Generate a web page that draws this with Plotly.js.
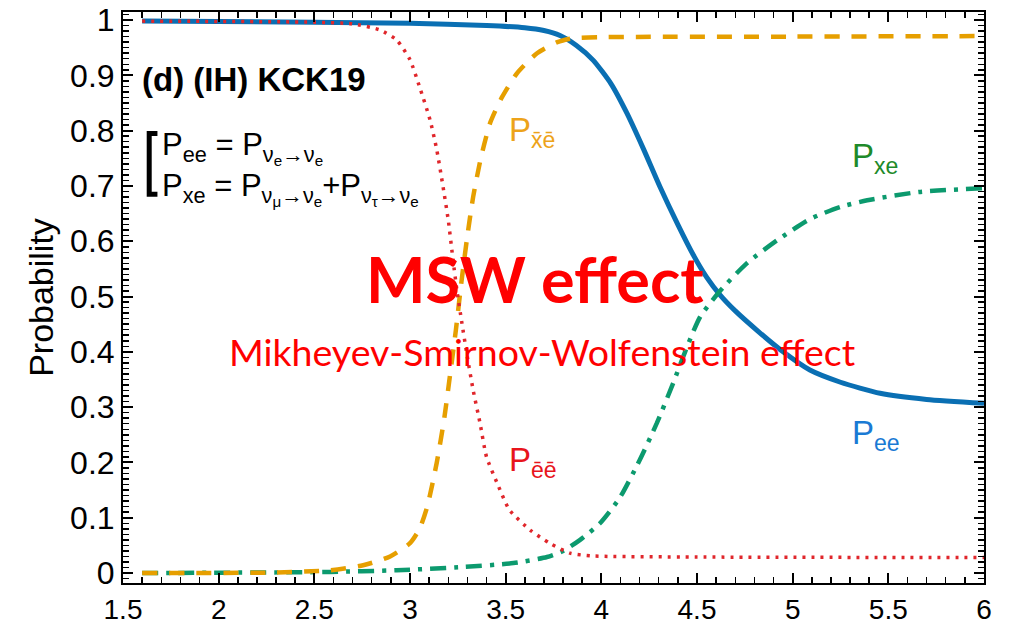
<!DOCTYPE html>
<html>
<head>
<meta charset="utf-8">
<script src="https://cdn.plot.ly/plotly-3.0.1.min.js"></script>
<style>
  html, body { margin: 0; padding: 0; background: #fff; }
  #chart { width: 1012px; height: 624px; }
</style>
</head>
<body>
<div id="chart"></div>
<script>
// Survival / conversion probabilities versus radius coordinate
// P_ee (nu_e -> nu_e), solid
const eeX = [1.6, 2.5, 3.0, 3.4, 3.6, 3.7, 3.784, 3.87, 3.958, 4.05, 4.133, 4.22, 4.307, 4.4, 4.481, 4.55, 4.62, 4.7, 4.83, 4.95, 5.09, 5.25, 5.457, 5.7, 6.0];
const eeY = [0.998, 0.996, 0.994, 0.99, 0.986, 0.981, 0.972, 0.954, 0.927, 0.885, 0.832, 0.767, 0.698, 0.63, 0.575, 0.535, 0.503, 0.474, 0.434, 0.40, 0.367, 0.345, 0.325, 0.314, 0.307];

// P_x̄ē (anti-nu_x -> anti-nu_e), dashed
const xbebX = [1.6, 2.3, 2.58, 2.755, 2.896, 3.0, 3.05, 3.09, 3.14, 3.18, 3.21, 3.24, 3.27, 3.30, 3.33, 3.37, 3.42, 3.48, 3.56, 3.664, 3.77, 3.85, 4.0, 5.0, 6.0];
const xbebY = [0.0, 0.001, 0.005, 0.014, 0.03, 0.054, 0.08, 0.12, 0.2, 0.282, 0.36, 0.44, 0.53, 0.61, 0.68, 0.75, 0.815, 0.86, 0.904, 0.94, 0.96, 0.967, 0.969, 0.97, 0.971];

// P_ēē (anti-nu_e -> anti-nu_e), dotted
const ebebX = [1.6, 2.5, 2.7, 2.843, 2.93, 3.0, 3.05, 3.105, 3.14, 3.173, 3.2, 3.225, 3.245, 3.27, 3.3, 3.33, 3.366, 3.40, 3.455, 3.52, 3.627, 3.73, 3.837, 3.95, 4.5, 6.0];
const ebebY = [0.998, 0.996, 0.993, 0.982, 0.964, 0.928, 0.879, 0.819, 0.765, 0.698, 0.638, 0.566, 0.512, 0.455, 0.39, 0.331, 0.271, 0.21, 0.163, 0.114, 0.078, 0.054, 0.036, 0.031, 0.029, 0.028];

// P_xe (nu_mu + nu_tau -> nu_e), dash-dot
const xeX = [1.6, 2.58, 2.93, 3.28, 3.54, 3.716, 3.8, 3.889, 3.993, 4.098, 4.2, 4.29, 4.375, 4.448, 4.516, 4.62, 4.76, 4.92, 5.09, 5.25, 5.39, 5.66, 6.0];
const xeY = [0.0, 0.002, 0.005, 0.011, 0.018, 0.029, 0.04, 0.06, 0.09, 0.137, 0.204, 0.271, 0.343, 0.409, 0.463, 0.51, 0.56, 0.602, 0.64, 0.662, 0.674, 0.689, 0.696];

// Axis extents and tick spacing (labels: 1.5 … 6 and 0 … 1)
const xRange = [1.5, 6];
const yRange = [-0.018, 1.0145];
const xMajor = 0.5, xMinor = 0.1;
const yMajor = 0.1, yMinor = 0.01;

const BLUE = '#0a6fb3';
const ORANGE = '#e69f00';
const GREEN = '#0c9a6e';
const RED = '#e0262b';

const traces = [
  { x: eeX, y: eeY, mode: 'lines', line: { color: BLUE, width: 5, shape: 'spline', smoothing: 0.6 }, hoverinfo: 'skip' },
  { x: xeX, y: xeY, mode: 'lines', line: { color: GREEN, width: 4.5, dash: '16px,8px,4px,8px', shape: 'spline', smoothing: 0.6 }, hoverinfo: 'skip' },
  { x: xbebX, y: xbebY, mode: 'lines', line: { color: ORANGE, width: 4.5, dash: '15px,12px', shape: 'spline', smoothing: 0.6 }, hoverinfo: 'skip' },
  { x: ebebX, y: ebebY, mode: 'lines', line: { color: RED, width: 3.5, dash: '3px,6px', shape: 'spline', smoothing: 0.6 }, hoverinfo: 'skip' }
];

const tickFamily = 'Liberation Sans, Arial, sans-serif';

const axisCommon = {
  showgrid: false,
  zeroline: false,
  showline: true,
  linecolor: '#000',
  linewidth: 2,
  mirror: 'allticks',
  ticks: 'inside',
  ticklen: 10,
  tickwidth: 2,
  tickcolor: '#000'
};

const minorTicks = { ticks: 'inside', ticklen: 6, tickwidth: 1.5, tickcolor: '#000', showgrid: false };

const labelFont = { family: tickFamily, size: 33 };

const layout = {
  width: 1012,
  height: 624,
  margin: { l: 123, r: 28, t: 12, b: 41 },
  paper_bgcolor: '#fff',
  plot_bgcolor: '#fff',
  showlegend: false,
  xaxis: Object.assign({}, axisCommon, {
    range: xRange,
    tickmode: 'linear', tick0: xRange[0], dtick: xMajor,
    tickfont: { family: tickFamily, size: 28, color: '#000' },
    minor: Object.assign({ dtick: xMinor }, minorTicks)
  }),
  yaxis: Object.assign({}, axisCommon, {
    range: yRange,
    tickmode: 'linear', tick0: 0, dtick: yMajor,
    tickfont: { family: tickFamily, size: 32, color: '#000' },
    minor: Object.assign({ dtick: yMinor }, minorTicks),
    title: { text: 'Probability', font: { family: tickFamily, size: 34, color: '#000' }, standoff: 6 }
  }),
  shapes: [
    // bracket grouping the two definitions
    { type: 'path', xref: 'x', yref: 'y', path: 'M 1.68,0.795 L 1.637,0.795 L 1.637,0.685 L 1.68,0.685',
      line: { color: '#000', width: 5 } }
  ],
  annotations: [
    { text: '(d) (IH) KCK19', x: 1.589, y: 0.893, xref: 'x', yref: 'y', xanchor: 'left', yanchor: 'middle', showarrow: false,
      font: { family: tickFamily, size: 33, color: '#000', weight: 700 } },
    { text: 'P<sub>ee</sub> = P<sub>ν<sub>e</sub>→ν<sub>e</sub></sub>', x: 1.693, y: 0.768, xref: 'x', yref: 'y', xanchor: 'left', yanchor: 'middle', showarrow: false,
      font: { family: tickFamily, size: 31, color: '#000' } },
    { text: 'P<sub>xe</sub> = P<sub>ν<sub>μ</sub>→ν<sub>e</sub></sub>+P<sub>ν<sub>τ</sub>→ν<sub>e</sub></sub>', x: 1.693, y: 0.695, xref: 'x', yref: 'y', xanchor: 'left', yanchor: 'middle', showarrow: false,
      font: { family: tickFamily, size: 31, color: '#000' } },
    { text: 'P<sub>x\u0304\u0113</sub>', x: 3.507, y: 0.797, xref: 'x', yref: 'y', xanchor: 'left', yanchor: 'middle', showarrow: false,
      font: Object.assign({}, labelFont, { color: '#eda31a' }) },
    { text: 'P<sub>xe</sub>', x: 5.30, y: 0.75, xref: 'x', yref: 'y', xanchor: 'left', yanchor: 'middle', showarrow: false,
      font: Object.assign({}, labelFont, { color: '#1e8a2a' }) },
    { text: 'P<sub>ee</sub>', x: 5.30, y: 0.25, xref: 'x', yref: 'y', xanchor: 'left', yanchor: 'middle', showarrow: false,
      font: Object.assign({}, labelFont, { color: '#1a7ad4' }) },
    { text: 'P<sub>\u0113\u0113</sub>', x: 3.505, y: 0.20, xref: 'x', yref: 'y', xanchor: 'left', yanchor: 'middle', showarrow: false,
      font: Object.assign({}, labelFont, { color: '#e8141c' }) },
    { text: 'MSW effect', x: 3.654, y: 0.533, xref: 'x', yref: 'y', xanchor: 'center', yanchor: 'middle', showarrow: false,
      font: { family: 'Lato, sans-serif', size: 63, color: '#ff0000', weight: 700 } },
    { text: 'Mikheyev-Smirnov-Wolfenstein effect', x: 3.695, y: 0.40, xref: 'x', yref: 'y', xanchor: 'center', yanchor: 'middle', showarrow: false,
      font: { family: 'Lato, sans-serif', size: 37.5, color: '#ff0000' } }
  ]
};

Plotly.newPlot('chart', traces, layout, { staticPlot: true, displayModeBar: false });
</script>
</body>
</html>
